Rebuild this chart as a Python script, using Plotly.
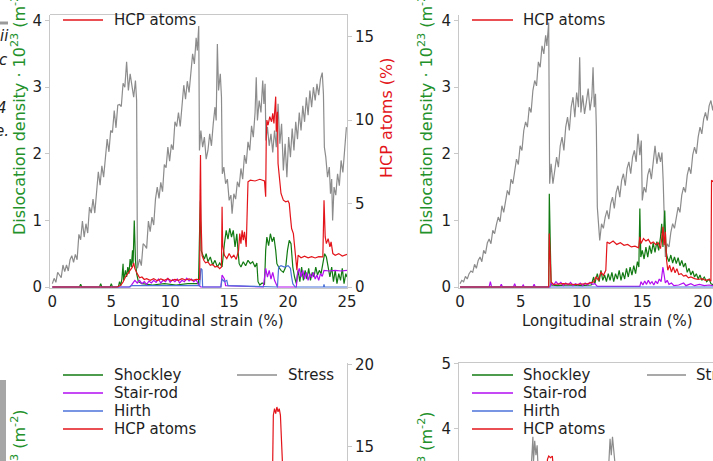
import plotly.graph_objects as go

W, H = 713, 461

# ---------------- data (strain %, value) ----------------
# Top-left panel: stress (GPa, drawn on the density scale), densities (1e23 m^-2), HCP (%)
tl_stress = [
    (0.00, 0.05), (0.15, 0.13), (0.30, 0.07), (0.45, 0.22), (0.60, 0.18), (0.75, 0.14), (0.90, 0.33),
    (1.05, 0.23), (1.20, 0.33), (1.35, 0.24), (1.50, 0.41), (1.65, 0.47), (1.80, 0.37), (1.95, 0.49),
    (2.10, 0.41), (2.25, 0.79), (2.40, 0.71), (2.55, 0.99), (2.70, 0.75), (2.85, 0.95), (3.00, 0.81),
    (3.15, 1.20), (3.30, 1.11), (3.45, 1.32), (3.60, 1.11), (3.75, 1.48), (3.90, 1.73), (4.05, 1.53),
    (4.20, 1.82), (4.35, 1.65), (4.50, 1.97), (4.65, 2.22), (4.80, 2.03), (4.95, 2.35), (5.10, 2.32),
    (5.25, 2.65), (5.40, 2.39), (5.55, 2.73), (5.70, 2.74), (5.85, 2.71), (6.00, 3.06), (6.15, 3.00),
    (6.30, 3.38), (6.45, 2.95), (6.60, 3.20), (6.75, 3.05), (6.90, 2.85), (7.05, 3.10), (7.15, 2.80),
    (7.22, 0.28),
    (7.40, 0.42), (7.55, 0.32), (7.70, 0.65), (7.85, 0.62), (8.00, 0.58), (8.15, 0.99), (8.30, 0.83),
    (8.45, 1.05), (8.60, 0.93), (8.75, 1.32), (8.90, 1.50), (9.05, 1.33), (9.20, 1.57), (9.35, 1.43),
    (9.50, 1.84), (9.65, 1.79), (9.80, 2.10), (9.95, 1.89), (10.10, 2.14), (10.25, 2.06), (10.40, 2.48),
    (10.55, 2.41), (10.70, 2.62), (10.85, 2.41), (11.00, 2.78), (11.15, 3.03), (11.30, 2.82), (11.45, 3.09),
    (11.60, 2.92), (11.75, 3.24), (11.90, 3.50), (12.05, 3.35), (12.20, 3.74), (12.30, 3.55), (12.42, 3.92),
    (12.48, 2.05),
    (12.60, 2.35), (12.75, 2.10), (12.90, 2.25), (13.05, 1.92), (13.20, 2.05), (13.35, 2.30), (13.50, 2.12),
    (13.65, 2.45), (13.80, 2.70), (13.90, 2.50), (14.00, 3.65), (14.10, 2.95), (14.25, 3.20), (14.35, 2.85),
    (14.42, 1.70), (14.55, 1.80), (14.70, 1.55), (14.85, 1.62), (15.00, 1.30), (15.15, 1.38), (15.25, 1.10),
    (15.40, 1.40), (15.55, 1.32), (15.70, 1.58), (15.85, 1.50), (16.00, 1.78), (16.15, 1.62), (16.30, 1.98),
    (16.45, 1.85), (16.60, 2.18), (16.75, 2.05), (16.90, 2.42), (17.05, 2.25), (17.20, 2.62), (17.30, 3.15),
    (17.40, 2.50), (17.55, 2.80), (17.70, 2.62), (17.85, 3.10), (17.95, 2.75), (18.05, 3.05), (18.12, 2.20),
    (18.25, 2.40), (18.40, 2.12), (18.55, 2.30), (18.70, 2.02), (18.85, 2.35), (19.00, 2.10), (19.15, 2.75),
    (19.30, 2.15), (19.45, 2.45), (19.60, 1.75), (19.75, 2.15), (19.90, 1.65),
    (20.05, 2.25), (20.20, 1.95), (20.35, 2.38), (20.50, 2.05), (20.65, 2.48), (20.80, 2.22), (20.95, 2.62),
    (21.10, 2.35), (21.25, 2.72), (21.40, 2.48), (21.55, 2.85), (21.70, 2.58), (21.85, 2.95), (22.00, 2.70),
    (22.15, 3.00), (22.30, 2.80), (22.45, 3.05), (22.60, 2.88), (22.75, 3.12), (22.90, 3.22), (23.00, 2.90),
    (23.08, 2.10), (23.20, 1.95), (23.35, 1.65), (23.50, 1.80), (23.60, 1.40), (23.70, 1.62), (23.78, 1.00),
    (23.90, 1.50), (24.05, 1.38), (24.20, 1.70), (24.35, 1.52), (24.50, 1.90), (24.65, 1.72), (24.80, 2.10),
    (24.95, 2.40),
]
tl_shockley = [
    (0.0, 0.0), (2.3, 0.0), (2.4, 0.04), (2.5, 0.0), (4.0, 0.0), (4.1, 0.05), (4.2, 0.0), (4.9, 0.0),
    (5.0, 0.05), (5.1, 0.0), (5.6, 0.0), (5.7, 0.08), (5.8, 0.02), (5.9, 0.12), (6.0, 0.35), (6.05, 0.1),
    (6.2, 0.25), (6.3, 0.15), (6.4, 0.3), (6.5, 0.2), (6.6, 0.42), (6.7, 0.3), (6.8, 0.55), (6.85, 0.35),
    (6.95, 1.0), (7.05, 0.4), (7.15, 0.2), (7.3, 0.08), (7.6, 0.05), (8.5, 0.03), (9.5, 0.05), (10.5, 0.03),
    (11.5, 0.05), (12.4, 0.05), (12.5, 0.9), (12.56, 1.3), (12.62, 0.55), (12.75, 0.5), (12.9, 0.42),
    (13.05, 0.5), (13.2, 0.38), (13.4, 0.45), (13.6, 0.33), (13.8, 0.4), (14.0, 0.3), (14.2, 0.36),
    (14.4, 0.3), (14.6, 0.65), (14.75, 0.85), (14.9, 0.72), (15.05, 0.88), (15.2, 0.75), (15.35, 0.85),
    (15.5, 0.6), (15.65, 0.8), (15.75, 0.55), (15.85, 0.35), (16.0, 0.3), (16.2, 0.38), (16.4, 0.32),
    (16.6, 0.4), (16.8, 0.35), (17.0, 0.38), (17.2, 0.3), (17.35, 0.36), (17.45, 0.08), (17.6, 0.03),
    (17.8, 0.06), (18.0, 0.04), (18.1, 0.55), (18.2, 0.75), (18.35, 0.62), (18.5, 0.8), (18.65, 0.68),
    (18.8, 0.75), (18.95, 0.55), (19.05, 0.35), (19.2, 0.3), (19.4, 0.25), (19.6, 0.22), (19.8, 0.3),
    (19.95, 0.55), (20.1, 0.7), (20.25, 0.65), (20.4, 0.3), (20.55, 0.15), (20.7, 0.05), (20.85, 0.25),
    (21.0, 0.08), (21.15, 0.3), (21.3, 0.1), (21.45, 0.25), (21.6, 0.12), (21.75, 0.28), (21.9, 0.1),
    (22.05, 0.22), (22.2, 0.15), (22.35, 0.3), (22.5, 0.18), (22.65, 0.25), (22.8, 0.2), (22.95, 0.35),
    (23.1, 0.5), (23.25, 0.45), (23.4, 0.3), (23.55, 0.15), (23.7, 0.3), (23.85, 0.08), (24.0, 0.25),
    (24.15, 0.05), (24.3, 0.2), (24.45, 0.1), (24.6, 0.28), (24.75, 0.05), (24.9, 0.2), (25.0, 0.15),
]
tl_stairrod = [
    (0.0, 0.0), (6.6, 0.0), (6.8, 0.05), (7.0, 0.1), (7.2, 0.06), (7.4, 0.1), (7.6, 0.05), (7.8, 0.08),
    (8.0, 0.04), (8.2, 0.09), (8.4, 0.06), (8.6, 0.1), (8.8, 0.07), (9.0, 0.12), (9.2, 0.06), (9.4, 0.1),
    (9.6, 0.08), (9.8, 0.13), (10.0, 0.07), (10.2, 0.11), (10.4, 0.08), (10.6, 0.12), (10.8, 0.06),
    (11.0, 0.1), (11.2, 0.08), (11.4, 0.13), (11.6, 0.09), (11.8, 0.12), (12.0, 0.08), (12.2, 0.11),
    (12.45, 0.02), (12.6, 0.0), (14.3, 0.0), (14.4, 0.18), (14.6, 0.12), (14.7, 0.02), (17.9, 0.0),
    (18.0, 0.2), (18.1, 0.28), (18.25, 0.15), (18.4, 0.25), (18.55, 0.12), (18.7, 0.22), (18.85, 0.1),
    (19.0, 0.05), (19.1, 0.0), (20.7, 0.0), (20.8, 0.2), (20.95, 0.28), (21.1, 0.15), (21.25, 0.25),
    (21.4, 0.12), (21.55, 0.22), (21.7, 0.1), (21.85, 0.2), (22.0, 0.14), (22.15, 0.22), (22.3, 0.12),
    (22.45, 0.18), (22.6, 0.1), (22.75, 0.2), (22.9, 0.16), (23.05, 0.25), (23.5, 0.24), (24.0, 0.25),
    (24.5, 0.24), (25.0, 0.25),
]
tl_hirth = [
    (0.0, 0.0), (6.5, 0.0), (6.7, 0.02), (12.5, 0.02), (12.6, 0.28), (12.7, 0.26), (12.75, 0.0),
    (14.3, 0.0), (14.4, 0.12), (14.6, 0.08), (14.8, 0.1), (14.9, 0.02), (19.1, 0.0), (19.2, 0.3),
    (19.4, 0.32), (19.7, 0.3), (20.0, 0.32), (20.2, 0.28), (20.3, 0.15), (20.4, 0.05), (20.6, 0.0),
    (23.0, 0.0), (23.05, 0.04), (23.1, 0.0), (25.0, 0.0),
]
tl_hcp = [
    (0.0, 0.0), (5.5, 0.0), (5.8, 0.1), (6.0, 0.3), (6.2, 0.6), (6.4, 0.8), (6.6, 1.0), (6.8, 1.2),
    (6.9, 1.45), (7.0, 1.1), (7.2, 0.8), (7.4, 0.55), (7.6, 0.6), (7.8, 0.45), (8.0, 0.5), (8.3, 0.4),
    (8.6, 0.5), (8.9, 0.38), (9.2, 0.48), (9.5, 0.4), (9.8, 0.5), (10.1, 0.38), (10.4, 0.46), (10.7, 0.4),
    (11.0, 0.5), (11.3, 0.42), (11.6, 0.48), (11.9, 0.4), (12.2, 0.46), (12.5, 0.45), (12.53, 5.5),
    (12.57, 7.9), (12.62, 4.0), (12.7, 1.9), (12.85, 1.6), (13.0, 1.45), (13.2, 1.5), (13.4, 1.3),
    (13.6, 1.35), (13.8, 1.2), (14.0, 1.25), (14.2, 1.1), (14.35, 1.2), (14.4, 4.8), (14.45, 2.5),
    (14.6, 1.9), (14.8, 1.7), (15.0, 2.0), (15.2, 1.75), (15.4, 1.9), (15.6, 1.65), (15.8, 2.2),
    (15.9, 3.2), (16.0, 2.6), (16.1, 3.4), (16.2, 2.8), (16.3, 3.3), (16.45, 2.4), (16.6, 6.3),
    (16.8, 6.4), (17.2, 6.35), (17.6, 6.45), (18.0, 6.35), (18.05, 5.6), (18.1, 5.4), (18.15, 9.0),
    (18.2, 10.0), (18.3, 9.7), (18.45, 10.2), (18.6, 9.9), (18.7, 10.4), (18.8, 9.8), (18.95, 11.4),
    (19.0, 9.3), (19.1, 10.5), (19.15, 7.4), (19.25, 6.5), (19.4, 5.6), (19.6, 5.2), (19.8, 5.1),
    (20.0, 5.15), (20.1, 5.0), (20.2, 4.2), (20.3, 3.5), (20.45, 3.2), (20.55, 2.5), (20.65, 1.5),
    (20.75, 1.0), (20.85, 1.9), (21.1, 1.75), (21.4, 1.85), (21.7, 1.75), (22.0, 1.82), (22.3, 1.74),
    (22.6, 1.82), (22.95, 1.8), (23.05, 5.2), (23.15, 3.0), (23.25, 2.6), (23.4, 2.9), (23.55, 2.4),
    (23.65, 2.7), (23.8, 2.0), (24.0, 1.9), (24.3, 2.0), (24.6, 1.85), (25.0, 1.95),
]

# Top-right panel
tr_stress = [
    (0.00, 0.05), (0.15, 0.10), (0.30, 0.08), (0.45, 0.16), (0.60, 0.12), (0.75, 0.20), (0.90, 0.24),
    (1.05, 0.22), (1.20, 0.34), (1.35, 0.28), (1.50, 0.40), (1.65, 0.45), (1.80, 0.38), (1.95, 0.55),
    (2.10, 0.50), (2.25, 0.66), (2.40, 0.72), (2.55, 0.65), (2.70, 0.85), (2.85, 0.80), (3.00, 0.94),
    (3.15, 1.05), (3.30, 0.98), (3.45, 1.22), (3.60, 1.12), (3.75, 1.32), (3.90, 1.45), (4.05, 1.38),
    (4.20, 1.62), (4.35, 1.55), (4.50, 1.78), (4.65, 1.92), (4.80, 1.84), (4.95, 2.12), (5.10, 2.05),
    (5.25, 2.35), (5.40, 2.48), (5.55, 2.40), (5.70, 2.70), (5.85, 2.62), (6.00, 2.95), (6.15, 3.10),
    (6.30, 3.02), (6.45, 3.38), (6.60, 3.30), (6.75, 3.62), (6.90, 3.50), (7.05, 3.78), (7.15, 3.62),
    (7.30, 3.97), (7.38, 1.55),
    (7.50, 1.85), (7.65, 1.55), (7.80, 1.72), (7.95, 1.95), (8.10, 1.80), (8.25, 2.12), (8.40, 2.25),
    (8.55, 2.05), (8.70, 2.40), (8.85, 2.55), (9.00, 2.35), (9.15, 2.70), (9.30, 2.85), (9.45, 2.55),
    (9.60, 2.92), (9.75, 2.70), (9.85, 3.45), (9.95, 2.62), (10.10, 2.88), (10.25, 2.60), (10.40, 2.78),
    (10.55, 2.98), (10.70, 2.65), (10.85, 2.85), (10.95, 3.30), (11.05, 2.70), (11.15, 2.90), (11.22, 2.40),
    (11.30, 1.20), (11.40, 0.85), (11.50, 0.70),
    (11.65, 0.95), (11.80, 0.88), (11.95, 1.05), (12.10, 1.15), (12.25, 1.02), (12.40, 1.25), (12.55, 1.35),
    (12.70, 1.18), (12.85, 1.42), (13.00, 1.52), (13.15, 1.35), (13.30, 1.60), (13.45, 1.70), (13.60, 1.52),
    (13.75, 1.78), (13.90, 1.88), (14.05, 1.70), (14.20, 1.95), (14.35, 2.05), (14.50, 1.88), (14.65, 2.30),
    (14.80, 1.98), (14.92, 2.20), (15.00, 1.30),
    (15.15, 1.50), (15.30, 1.42), (15.45, 1.68), (15.60, 1.78), (15.75, 1.62), (15.90, 1.90), (16.05, 2.12),
    (16.20, 1.85), (16.35, 2.02), (16.50, 1.88), (16.62, 2.02), (16.72, 1.60), (16.80, 0.90), (16.90, 0.45),
    (17.05, 0.65), (17.20, 0.60), (17.35, 0.82), (17.50, 0.95), (17.65, 0.88), (17.80, 1.08), (17.95, 1.20),
    (18.10, 1.12), (18.25, 1.38), (18.40, 1.50), (18.55, 1.42), (18.70, 1.68), (18.85, 1.80), (19.00, 1.70),
    (19.15, 1.98), (19.30, 2.10), (19.45, 2.00), (19.60, 2.25), (19.75, 2.40), (19.90, 2.30), (20.05, 2.52),
    (20.20, 2.62), (20.35, 2.50), (20.50, 2.72), (20.65, 2.80), (20.80, 2.65), (20.95, 2.85),
]
tr_shockley = [
    (0.0, 0.0), (7.3, 0.0), (7.35, 1.4), (7.42, 0.6), (7.5, 0.03), (8.0, 0.02), (9.0, 0.03), (10.0, 0.02),
    (10.8, 0.03), (11.0, 0.15), (11.1, 0.05), (11.3, 0.2), (11.45, 0.08), (11.6, 0.25), (11.75, 0.1),
    (11.9, 0.18), (12.05, 0.08), (12.2, 0.2), (12.35, 0.1), (12.5, 0.22), (12.65, 0.08), (12.8, 0.2),
    (12.95, 0.12), (13.1, 0.25), (13.25, 0.1), (13.4, 0.22), (13.55, 0.12), (13.7, 0.28), (13.85, 0.15),
    (14.0, 0.3), (14.15, 0.18), (14.3, 0.32), (14.45, 0.2), (14.6, 0.38), (14.72, 0.3), (14.8, 1.18),
    (14.88, 0.45), (15.0, 0.55), (15.15, 0.42), (15.3, 0.6), (15.45, 0.45), (15.6, 0.62), (15.75, 0.5),
    (15.9, 0.66), (16.05, 0.52), (16.2, 0.68), (16.35, 0.55), (16.5, 0.75), (16.6, 0.95), (16.7, 0.6),
    (16.85, 1.15), (16.95, 0.55), (17.05, 0.45), (17.2, 0.38), (17.35, 0.48), (17.5, 0.36), (17.65, 0.45),
    (17.8, 0.35), (17.95, 0.44), (18.1, 0.32), (18.25, 0.4), (18.4, 0.3), (18.55, 0.36), (18.7, 0.22),
    (18.85, 0.28), (19.0, 0.18), (19.15, 0.24), (19.3, 0.15), (19.45, 0.2), (19.6, 0.12), (19.75, 0.18),
    (19.9, 0.1), (20.1, 0.15), (20.3, 0.08), (20.5, 0.12), (20.65, 0.05), (20.85, 0.03),
]
tr_stairrod = [
    (0.0, 0.0), (2.4, 0.0), (2.5, 0.08), (2.6, 0.0), (3.3, 0.0), (3.4, 0.04), (3.5, 0.0), (4.4, 0.0),
    (4.5, 0.05), (4.6, 0.0), (5.1, 0.0), (5.2, 0.03), (5.3, 0.0), (6.0, 0.0), (6.1, 0.04), (6.2, 0.0),
    (7.4, 0.0), (7.5, 0.06), (7.7, 0.03), (7.9, 0.08), (8.1, 0.04), (8.3, 0.07), (8.5, 0.02), (8.7, 0.06),
    (8.9, 0.03), (9.1, 0.07), (9.3, 0.02), (9.5, 0.05), (9.7, 0.03), (9.9, 0.06), (10.1, 0.02), (10.3, 0.06),
    (10.5, 0.03), (10.7, 0.07), (10.9, 0.04), (11.1, 0.05), (11.3, 0.01), (14.8, 0.01), (14.9, 0.08),
    (15.05, 0.03), (15.2, 0.09), (15.35, 0.04), (15.5, 0.1), (15.65, 0.05), (15.8, 0.08), (15.95, 0.03),
    (16.1, 0.09), (16.25, 0.05), (16.4, 0.12), (16.55, 0.08), (16.7, 0.3), (16.8, 0.15), (16.9, 0.06),
    (17.05, 0.1), (17.2, 0.04), (17.4, 0.06), (17.6, 0.02), (18.0, 0.03), (18.4, 0.06), (18.6, 0.02),
    (19.0, 0.05), (19.3, 0.02), (19.7, 0.04), (20.1, 0.02), (20.5, 0.03), (20.85, 0.02),
]
tr_hirth = [(0.0, 0.0), (20.85, 0.0)]
tr_hcp = [
    (0.0, 0.0), (7.3, 0.0), (7.35, 3.2), (7.42, 2.0), (7.5, 0.3), (7.7, 0.15), (8.5, 0.2), (9.5, 0.15),
    (10.5, 0.2), (11.0, 0.3), (11.2, 0.6), (11.4, 0.4), (11.6, 0.9), (11.8, 0.7), (12.0, 1.0), (12.1, 2.7),
    (12.3, 2.6), (12.6, 2.75), (12.9, 2.55), (13.2, 2.65), (13.5, 2.5), (13.8, 2.55), (14.1, 2.4),
    (14.4, 2.45), (14.7, 2.35), (14.8, 3.0), (14.9, 2.6), (15.1, 2.9), (15.3, 2.75), (15.5, 2.85),
    (15.7, 2.6), (15.9, 2.7), (16.1, 2.55), (16.3, 2.65), (16.5, 2.3), (16.6, 2.9), (16.7, 3.6), (16.8, 2.5),
    (16.9, 3.3), (17.0, 1.6), (17.1, 1.0), (17.25, 1.3), (17.4, 0.9), (17.55, 1.2), (17.7, 0.85),
    (17.85, 1.1), (18.0, 0.75), (18.2, 0.8), (18.4, 0.65), (18.6, 0.7), (18.8, 0.55), (19.0, 0.6),
    (19.3, 0.5), (19.6, 0.45), (19.9, 0.5), (20.2, 0.4), (20.5, 0.45), (20.65, 0.35), (20.7, 6.4),
    (20.85, 6.3),
]

# Bottom panels: only their upper strip is in view
bl_hcp = [
    (0.0, 0.0), (18.6, 9.0), (18.75, 16.9), (18.85, 17.3), (18.95, 17.0), (19.05, 17.4), (19.15, 17.1),
    (19.25, 17.3), (19.35, 16.9), (19.42, 9.5), (20.0, 6.0), (25.0, 2.5),
]
br_stress = [
    (5.0, 2.6), (5.8, 3.2), (5.95, 3.7), (6.0, 3.88), (6.05, 3.5), (6.15, 3.82), (6.25, 3.6), (6.35, 3.75),
    (6.45, 3.3), (6.6, 3.0), (7.0, 2.5), (10.0, 3.2), (12.2, 3.3), (12.35, 3.85), (12.45, 3.6),
    (12.55, 3.88), (12.65, 3.5), (12.75, 3.2), (13.5, 2.0),
]
br_hcp = [
    (6.5, 10.0), (7.0, 12.0), (7.2, 14.2), (7.3, 14.4), (7.45, 14.3), (7.6, 14.4), (7.7, 13.5), (8.0, 12.0),
]

legend_labels = ["Shockley", "Stair-rod", "Hirth", "HCP atoms"]
stress_label = "Stress"
xtick_vals = [0, 5, 10, 15, 20, 25]

# ---------------- styling ----------------
FONT = "DejaVu Sans"
FS = 15
FS_TITLE = 16
C_GREEN = "#127a12"
C_PURPLE = "#b20cf0"
C_BLUE = "#4a72d8"
C_RED = "#e3151b"
C_GRAY = "#8c8c8c"
AXIS = "#c8c8c8"
TXT = "#1e1e1e"
T_GREEN = "#23912a"
T_RED = "#e3151b"


def fx(px):
    return px / W


def fy(py):
    return 1 - py / H


fig = go.Figure()


def add(series, color, xa, ya, width=1.2):
    fig.add_trace(go.Scatter(
        x=[p[0] for p in series], y=[p[1] for p in series], mode="lines",
        line=dict(color=color, width=width), xaxis=xa, yaxis=ya,
        showlegend=False, hoverinfo="skip"))


# top-left
add(tl_stress, C_GRAY, "x", "y")
add(tl_shockley, C_GREEN, "x", "y")
add(tl_stairrod, C_PURPLE, "x", "y")
add(tl_hirth, C_BLUE, "x", "y")
add(tl_hcp, C_RED, "x", "y2")
# top-right
add(tr_stress, C_GRAY, "x2", "y3")
add(tr_shockley, C_GREEN, "x2", "y3")
add(tr_stairrod, C_PURPLE, "x2", "y3")
add(tr_hirth, C_BLUE, "x2", "y3")
add(tr_hcp, C_RED, "x2", "y4")
# bottom
add(bl_hcp, C_RED, "x3", "y6")
add(br_stress, C_GRAY, "x4", "y7")
add(br_hcp, C_RED, "x4", "y8")

tickfont = dict(family=FONT, size=FS, color=TXT)
common = dict(showgrid=False, zeroline=False, showline=True, linecolor=AXIS, linewidth=1,
              ticks="outside", ticklen=4, tickcolor=AXIS, tickfont=tickfont, automargin=False)
xcommon = dict(common, ticks="")
hidden = dict(visible=False, showgrid=False, zeroline=False, automargin=False)

top_dom = [fy(288), fy(15)]
bot_dom = [0, fy(363)]
left_dom = [fx(50), fx(347)]
right_dom = [fx(459), 1.0]
yl_top = [-0.015, 4.084]
yr_top = [-0.06, 16.29]
yl_bot = [3.511, 5.008]
yr_bot = [14.1, 20.09]
x_left = [-0.2, 25.0]
x_right = [-0.08, 20.82]

fig.update_layout(
    width=W, height=H, margin=dict(l=0, r=0, t=0, b=0, pad=0, autoexpand=False), autosize=False,
    paper_bgcolor="white", plot_bgcolor="rgba(0,0,0,0)", showlegend=False,
    xaxis=dict(domain=left_dom, range=x_left, anchor="y", tickvals=xtick_vals, **xcommon),
    yaxis=dict(domain=top_dom, range=yl_top, anchor="x", tickvals=[0, 1, 2, 3, 4], **common),
    yaxis2=dict(domain=top_dom, overlaying="y", side="right", anchor="x", range=yr_top,
                tickvals=[0, 5, 10, 15], **common),
    xaxis2=dict(domain=right_dom, range=x_right, anchor="y3", tickvals=xtick_vals, **xcommon),
    yaxis3=dict(domain=top_dom, range=yl_top, anchor="x2", tickvals=[0, 1, 2, 3, 4], **common),
    yaxis4=dict(domain=top_dom, overlaying="y3", side="right", anchor="x2", range=yr_top, **hidden),
    xaxis3=dict(domain=left_dom, range=x_left, anchor="y5", side="top", showticklabels=False,
                showgrid=False, zeroline=False, showline=True, linecolor=AXIS, ticks="", automargin=False),
    yaxis5=dict(domain=bot_dom, range=yl_bot, anchor="x3", tickvals=[4, 5], **common),
    yaxis6=dict(domain=bot_dom, overlaying="y5", side="right", anchor="x3", range=yr_bot,
                tickvals=[15, 20], **common),
    xaxis4=dict(domain=right_dom, range=x_right, anchor="y7", side="top", showticklabels=False,
                showgrid=False, zeroline=False, showline=True, linecolor=AXIS, ticks="", automargin=False),
    yaxis7=dict(domain=bot_dom, range=yl_bot, anchor="x4", tickvals=[4, 5], **common),
    yaxis8=dict(domain=bot_dom, overlaying="y7", side="right", anchor="x4", range=yr_bot, **hidden),
)

ann = []
shapes = []


def text(px, py, s, color=TXT, angle=0, xanchor="center", italic=False, size=FS):
    ann.append(dict(x=fx(px), y=fy(py), xref="paper", yref="paper", text=s, showarrow=False,
                    textangle=angle, xanchor=xanchor, yanchor="middle",
                    font=dict(family=FONT, size=size, color=color,
                              style="italic" if italic else "normal")))


def hline(x0, x1, py, color, width=1.3):
    shapes.append(dict(type="line", xref="paper", yref="paper", x0=fx(x0), x1=fx(x1),
                       y0=fy(py), y1=fy(py), line=dict(color=color, width=width)))


dens_title = "Dislocation density · 10<sup>23</sup> (m<sup>-2</sup>)"
# axis titles
text(198, 321, "Longitudinal strain (%)")
text(607, 321, "Longitudinal strain (%)")
text(18, 112, dens_title, color=T_GREEN, angle=-90, size=FS_TITLE)
text(425, 112, dens_title, color=T_GREEN, angle=-90, size=FS_TITLE)
text(18, 533, dens_title, color=T_GREEN, angle=-90, size=FS_TITLE)
text(425, 535, dens_title, color=T_GREEN, angle=-90, size=FS_TITLE)
text(387, 117, "HCP atoms (%)", color=T_RED, angle=-90, size=FS_TITLE)

# legends (top panels: only the last entry is in view)
series_colors = [C_GREEN, C_PURPLE, C_BLUE, C_RED]
hline(63, 103, 20, C_RED)
text(112, 20, legend_labels[3], xanchor="left")
hline(472, 513, 20, C_RED)
text(521, 20, legend_labels[3], xanchor="left")
rows = [375, 393, 411, 429]
for lab, col, ry in zip(legend_labels, series_colors, rows):
    hline(63, 103, ry, col)
    text(112, ry, lab, xanchor="left")
    hline(472, 513, ry, col)
    text(521, ry, lab, xanchor="left")
hline(237, 277, 375, C_GRAY)
text(286, 375, stress_label, xanchor="left")
hline(647, 686, 375, C_GRAY)
text(694, 375, stress_label, xanchor="left")

# fragments of the neighbouring figure at the left edge
hline(0, 8, 23, "#9a9a9a", width=3)
text(11, 36, "ii", xanchor="right", italic=True)
text(10, 60, "c", xanchor="right", italic=True)
text(9, 108, "4", xanchor="right", italic=True)
text(11, 131, "e.", xanchor="right", italic=True)
shapes.append(dict(type="rect", xref="paper", yref="paper", x0=0, x1=fx(6), y0=0, y1=fy(380),
                   line=dict(width=0), fillcolor="#a6a6a6"))

fig.update_layout(annotations=ann, shapes=shapes)
fig.write_html("out.html", config={"displayModeBar": False},
               post_script="document.body.style.margin='0';document.body.style.overflow='hidden';")
